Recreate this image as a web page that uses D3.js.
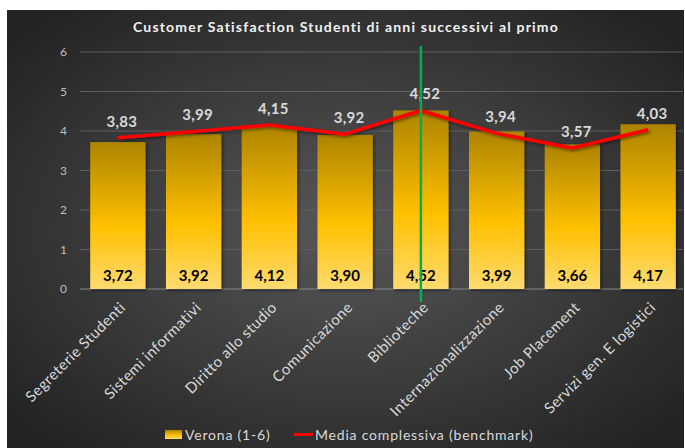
<!DOCTYPE html>
<html>
<head>
<meta charset="utf-8">
<script src="https://cdn.jsdelivr.net/npm/d3@7"></script>
<style>
  body { margin: 0; background: #fff; }
  text { font-family: Lato, "Open Sans", sans-serif; }
</style>
</head>
<body>
<div id="chart"></div>
<script>
// categories and values
var categories = ["Segreterie Studenti", "Sistemi informativi", "Diritto allo studio",
  "Comunicazione", "Biblioteche", "Internazionalizzazione", "Job Placement",
  "Servizi gen. E logistici"];
var verona = [3.72, 3.92, 4.12, 3.90, 4.52, 3.99, 3.66, 4.17];
var media = [3.83, 3.99, 4.15, 3.92, 4.52, 3.94, 3.57, 4.03];
var yTicks = [0, 1, 2, 3, 4, 5, 6];
var highlight = "Biblioteche";
var title = "Customer Satisfaction Studenti di anni successivi al primo";
var legendNames = ["Verona (1-6)", "Media complessiva (benchmark)"];

var width = 685, height = 448;
var fmt = function(v) { return d3.format(".2f")(v).replace(".", ","); };

var svg = d3.select("#chart").append("svg")
  .attr("width", width)
  .attr("height", height);

var defs = svg.append("defs");

// dark panel background
var bg = defs.append("radialGradient").attr("id", "bg")
  .attr("cx", "50%").attr("cy", "50%").attr("r", "65%");
bg.append("stop").attr("offset", "0%").attr("stop-color", "#585858");
bg.append("stop").attr("offset", "100%").attr("stop-color", "#232323");

// golden bars
var gold = defs.append("linearGradient").attr("id", "gold")
  .attr("x1", 0).attr("y1", 0).attr("x2", 0).attr("y2", 1);
gold.append("stop").attr("offset", "0%").attr("stop-color", "#ad8400");
gold.append("stop").attr("offset", "58%").attr("stop-color", "#ffc000");
gold.append("stop").attr("offset", "100%").attr("stop-color", "#ffdb70");

var shadow = defs.append("filter").attr("id", "shadow")
  .attr("x", "-20%").attr("y", "-20%").attr("width", "140%").attr("height", "140%");
shadow.append("feDropShadow").attr("dx", 1.5).attr("dy", 1.5)
  .attr("stdDeviation", 1.5).attr("flood-color", "#000").attr("flood-opacity", 0.5);

svg.append("rect")
  .attr("x", 7).attr("y", 10)
  .attr("width", 677).attr("height", 438)
  .attr("fill", "url(#bg)");

// scales
var x = d3.scaleBand()
  .domain(categories)
  .range([80, 686])
  .paddingInner(0.27)
  .paddingOuter(0.135);

var y = d3.scaleLinear()
  .domain([0, 6])
  .range([289, 52]);

// gridlines
svg.append("g")
  .selectAll("line")
  .data(yTicks)
  .enter()
  .append("line")
  .attr("x1", 80)
  .attr("x2", 683)
  .attr("y1", d => y(d))
  .attr("y2", d => y(d))
  .attr("stroke", d => d === 0 ? "#8a8a8a" : "#5e5e5e")
  .attr("stroke-width", 1);

// y axis labels
var yAxis = svg.append("g")
  .attr("transform", "translate(72,0)")
  .call(d3.axisLeft(y).tickValues(yTicks).tickFormat(d3.format("d")).tickSize(0).tickPadding(5));
yAxis.select(".domain").remove();
yAxis.selectAll("text")
  .attr("fill", "#bfbfbf")
  .style("font-size", "12px")
  .style("font-family", "Lato, sans-serif");

// bars
svg.append("g")
  .selectAll("rect")
  .data(verona)
  .enter()
  .append("rect")
  .attr("x", (d, i) => x(categories[i]))
  .attr("y", d => y(d))
  .attr("width", x.bandwidth())
  .attr("height", d => y(0) - y(d))
  .attr("fill", "url(#gold)")
  .attr("filter", "url(#shadow)");

// bar labels, near the base
svg.append("g")
  .selectAll("text")
  .data(verona)
  .enter()
  .append("text")
  .attr("x", (d, i) => x(categories[i]) + x.bandwidth() / 2)
  .attr("y", y(0) - 8)
  .attr("text-anchor", "middle")
  .attr("fill", "#000")
  .style("font-size", "15px")
  .style("font-weight", "bold")
  .text(d => fmt(d));

// benchmark line
var line = d3.line()
  .x((d, i) => x(categories[i]) + x.bandwidth() / 2)
  .y(d => y(d));

svg.append("path")
  .datum(media)
  .attr("d", line)
  .attr("fill", "none")
  .attr("stroke", "#ff0000")
  .attr("stroke-width", 3.5)
  .attr("stroke-linejoin", "round")
  .attr("filter", "url(#shadow)");

svg.append("g")
  .selectAll("text")
  .data(media)
  .enter()
  .append("text")
  .attr("x", (d, i) => x(categories[i]) + x.bandwidth() / 2 + 4)
  .attr("y", d => y(d) - 11)
  .attr("text-anchor", "middle")
  .attr("fill", "#d9d9d9")
  .style("font-size", "15px")
  .style("font-weight", "bold")
  .style("letter-spacing", "0.3px")
  .text(d => fmt(d));

// green marker on Biblioteche
var gx = x(highlight) + x.bandwidth() / 2;
svg.append("line")
  .attr("x1", gx).attr("x2", gx)
  .attr("y1", 46).attr("y2", 302)
  .attr("stroke", "#00b050")
  .attr("stroke-width", 2.5);

// x labels, rotated
svg.append("g")
  .selectAll("text")
  .data(categories)
  .enter()
  .append("text")
  .attr("transform", d => "translate(" + (x(d) + x.bandwidth() / 2 + 1) + ",301) rotate(-45)")
  .attr("text-anchor", "end")
  .attr("dy", "0.7em")
  .attr("fill", "#d9d9d9")
  .style("font-size", "15px")
  .style("letter-spacing", "0.4px")
  .text(d => d);

// title
svg.append("text")
  .attr("x", 346)
  .attr("y", 32)
  .attr("text-anchor", "middle")
  .attr("fill", "#f2f2f2")
  .style("font-size", "14px")
  .style("font-weight", "bold")
  .style("letter-spacing", "1.2px")
  .text(title);

// legend
var leg = svg.append("g");
leg.append("rect")
  .attr("x", 165).attr("y", 430)
  .attr("width", 17).attr("height", 9)
  .attr("fill", "url(#gold)");
leg.append("text")
  .attr("x", 185).attr("y", 440)
  .attr("fill", "#d9d9d9")
  .style("font-size", "14px")
  .style("letter-spacing", "0.8px")
  .text(legendNames[0]);
leg.append("line")
  .attr("x1", 294).attr("x2", 313)
  .attr("y1", 434.5).attr("y2", 434.5)
  .attr("stroke", "#ff0000")
  .attr("stroke-width", 3);
leg.append("text")
  .attr("x", 315).attr("y", 440)
  .attr("fill", "#d9d9d9")
  .style("font-size", "14px")
  .style("letter-spacing", "0.8px")
  .text(legendNames[1]);
</script>
</body>
</html>
